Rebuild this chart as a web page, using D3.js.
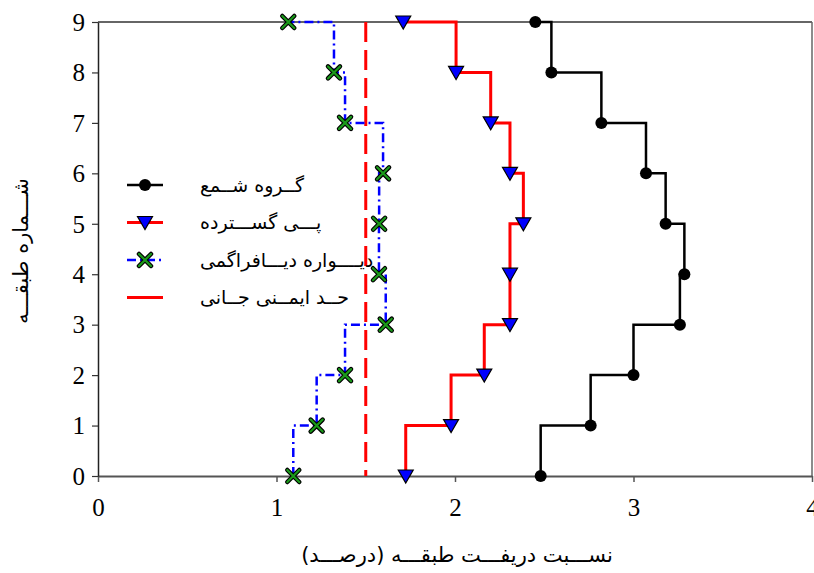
<!DOCTYPE html>
<html>
<head>
<meta charset="utf-8">
<script src="https://cdn.jsdelivr.net/npm/d3@7"></script>
<style>
  body { margin: 0; background: #fff; }
  svg { display: block; }
  .tick-num { font-family: "Liberation Serif", "Times New Roman", serif; font-size: 25px; fill: #000; }
  .fa { font-family: "DejaVu Sans", sans-serif; fill: #000; }
</style>
</head>
<body>
<svg id="chart" width="814" height="573"></svg>
<script>
const floors = [0, 1, 2, 3, 4, 5, 6, 7, 8, 9];
const pileGroup = [2.48, 2.76, 3.0, 3.26, 3.285, 3.18, 3.07, 2.82, 2.54, 2.45];
const matFooting = [1.724, 1.978, 2.164, 2.308, 2.308, 2.383, 2.308, 2.2, 2.006, 1.71];
const diaphragmWall = [1.094, 1.225, 1.384, 1.612, 1.574, 1.575, 1.597, 1.384, 1.322, 1.066];
const lifeSafety = 1.5;
const xTicks = [0, 1, 2, 3, 4];
const yTicks = [0, 1, 2, 3, 4, 5, 6, 7, 8, 9];

const labels = {
  pile: 'گــروه شــمع',
  mat: 'پـــی گســـترده',
  wall: 'دیــــواره دیـــافراگمی',
  limit: 'حــد ایمــنی جــانی',
  xTitle: 'نســـبت دریفـــت طبقـــه (درصـــد)',
  yTitle: 'شـــماره طبقـــه',
};

const plot = { left: 98, right: 812, top: 22, bottom: 476 };
const svg = d3.select('#chart');

const x = d3.scaleLinear().domain([0, 4]).range([plot.left, plot.right]);
const y = d3.scaleLinear().domain([0, 9]).range([plot.bottom, plot.top]);

// frame: top and right plain lines, left / bottom are axes
svg.append('line')
  .attr('x1', plot.left).attr('x2', plot.right)
  .attr('y1', plot.top).attr('y2', plot.top)
  .attr('stroke', '#666').attr('stroke-width', 2);
svg.append('line')
  .attr('x1', plot.right).attr('x2', plot.right)
  .attr('y1', plot.top).attr('y2', plot.bottom)
  .attr('stroke', '#666').attr('stroke-width', 1.5);

const xAxis = svg.append('g')
  .attr('transform', `translate(0,${plot.bottom})`)
  .call(d3.axisBottom(x).tickValues(xTicks).tickSize(6).tickSizeOuter(0).tickFormat(d3.format('d')));
xAxis.select('.domain').attr('stroke', '#555').attr('stroke-width', 2);
xAxis.selectAll('.tick line').attr('stroke', '#555').attr('stroke-width', 1.5);
xAxis.selectAll('.tick text')
  .attr('class', 'tick-num')
  .attr('dy', null)
  .attr('y', 40)
  .attr('font-size', null).attr('font-family', null);
xAxis.attr('font-size', null).attr('font-family', null);

const yAxis = svg.append('g')
  .attr('transform', `translate(${plot.left},0)`)
  .call(d3.axisLeft(y).tickValues(yTicks).tickSize(6).tickSizeOuter(0).tickFormat(d3.format('d')));
yAxis.select('.domain').attr('stroke', '#222').attr('stroke-width', 1.5);
yAxis.selectAll('.tick line').attr('stroke', '#333').attr('stroke-width', 1.2);
yAxis.selectAll('.tick text')
  .attr('class', 'tick-num')
  .attr('x', -13)
  .attr('dy', '0.33em');
yAxis.attr('font-size', null).attr('font-family', null);

// axis titles
svg.append('text')
  .attr('class', 'fa')
  .attr('x', (plot.left + plot.right) / 2 + 2)
  .attr('y', 562)
  .attr('text-anchor', 'middle')
  .attr('font-size', 21)
  .text(labels.xTitle);

svg.append('text')
  .attr('class', 'fa')
  .attr('transform', `translate(28,${(plot.top + plot.bottom) / 2 + 2}) rotate(-90)`)
  .attr('text-anchor', 'middle')
  .attr('font-size', 21)
  .text(labels.yTitle);

// safety limit
svg.append('line')
  .attr('x1', x(lifeSafety)).attr('x2', x(lifeSafety))
  .attr('y1', y(9)).attr('y2', y(0))
  .attr('stroke', '#ff0000').attr('stroke-width', 3)
  .attr('stroke-dasharray', '20,8');

// step series: vertical from each floor up to the next, then across
const stepLine = d3.line()
  .x(d => x(d[0]))
  .y(d => y(d[1]))
  .curve(d3.curveStepBefore);

const series = [
  { key: 'wall', values: diaphragmWall, color: '#0000ff', width: 2.5, dash: '9,4,2,4', marker: 'cross' },
  { key: 'mat', values: matFooting, color: '#ff0000', width: 3, dash: null, marker: 'tri' },
  { key: 'pile', values: pileGroup, color: '#000000', width: 2.5, dash: null, marker: 'dot' },
];

function drawMarker(g, type) {
  if (type === 'dot') {
    g.append('circle').attr('r', 6).attr('fill', '#000');
  } else if (type === 'tri') {
    g.append('path')
      .attr('d', 'M-7.5,-6 L7.5,-6 L0,7 Z')
      .attr('fill', '#0000ff').attr('stroke', '#000').attr('stroke-width', 1.2);
  } else {
    const arm = 'M-6,-6 L6,6 M-6,6 L6,-6';
    g.append('path').attr('d', arm).attr('stroke', '#000').attr('stroke-width', 4.5).attr('stroke-linecap', 'round');
    g.append('path').attr('d', arm).attr('stroke', '#1a9a1a').attr('stroke-width', 2.2).attr('stroke-linecap', 'round');
  }
}

series.forEach(s => {
  const pts = floors.map((f, i) => [s.values[i], f]);
  svg.append('path')
    .datum(pts)
    .attr('d', stepLine)
    .attr('fill', 'none')
    .attr('stroke', s.color)
    .attr('stroke-width', s.width)
    .attr('stroke-dasharray', s.dash);

  svg.append('g').selectAll('g')
    .data(pts)
    .join('g')
    .attr('transform', d => `translate(${x(d[0])},${y(d[1])})`)
    .each(function() { drawMarker(d3.select(this), s.marker); });
});

// legend
const legendRows = [
  { label: labels.pile, color: '#000', width: 2.5, dash: null, marker: 'dot' },
  { label: labels.mat, color: '#ff0000', width: 3, dash: null, marker: 'tri' },
  { label: labels.wall, color: '#0000ff', width: 2.5, dash: '9,4,2,4', marker: 'cross' },
  { label: labels.limit, color: '#ff0000', width: 3, dash: null, marker: null },
];

const legend = svg.append('g').attr('transform', 'translate(127,185)');
legendRows.forEach((r, i) => {
  const row = legend.append('g').attr('transform', `translate(0,${i * 37.5})`);
  row.append('line')
    .attr('x1', 0).attr('x2', 36)
    .attr('stroke', r.color).attr('stroke-width', r.width)
    .attr('stroke-dasharray', r.dash);
  if (r.marker) drawMarker(row.append('g').attr('transform', 'translate(18,0)'), r.marker);
  row.append('text')
    .attr('class', 'fa')
    .attr('x', 73)
    .attr('dy', '0.35em')
    .attr('font-size', 19)
    .attr('direction', 'ltr')
    .attr('text-anchor', 'start')
    .text(r.label);
});
</script>
</body>
</html>
